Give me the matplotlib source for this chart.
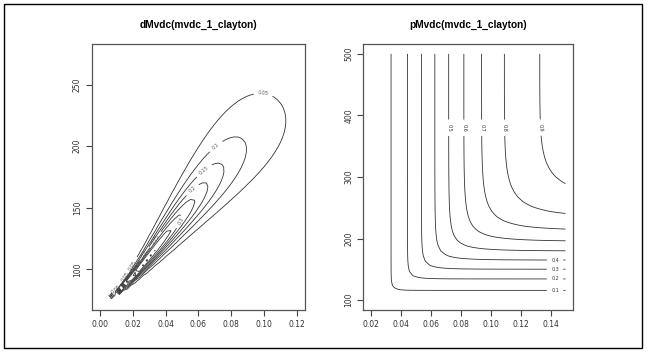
import math
import numpy as np
import matplotlib
matplotlib.use("Agg")
import matplotlib.pyplot as plt
from matplotlib.patches import Rectangle

# Clayton copula, X ~ gamma, Y ~ 75 + Weibull
theta = 4.3
x_shape, x_scale = 3.8, 0.0207
y_shape, y_scale, y_loc = 2.0, 126.0, 75.0

# grids used by the two contour panels (51 x 51, like R's default)
dens_xlim = (0.0, 0.12)
dens_ylim = (75.0, 275.0)
cdf_xlim = (0.02, 0.15)
cdf_ylim = (100.0, 500.0)
n_grid = 51

cdf_levels = [0.1, 0.2, 0.3, 0.4, 0.5, 0.6, 0.7, 0.8, 0.9]
dens_levels = [0.05, 0.1, 0.15, 0.2, 0.25, 0.3, 0.35, 0.4, 0.45, 0.5,
               0.55, 0.6, 0.65, 0.7, 0.75, 0.8]

dens_ticks_x = [0.00, 0.02, 0.04, 0.06, 0.08, 0.10, 0.12]
dens_ticks_y = [100, 150, 200, 250]
cdf_ticks_x = [0.02, 0.04, 0.06, 0.08, 0.10, 0.12, 0.14]
cdf_ticks_y = [100, 200, 300, 400, 500]


def gamma_cdf(t, a):
    t = np.maximum(np.asarray(t, float), 1e-300)
    term = np.full_like(t, 1.0 / a)
    s = term.copy()
    for n in range(1, 300):
        term = term * t / (a + n)
        s += term
    return np.clip(np.exp(a * np.log(t) - t - math.lgamma(a)) * s, 0, 1)


def gamma_pdf(t, a):
    t = np.asarray(t, float)
    out = np.zeros_like(t)
    m = t > 0
    out[m] = np.exp((a - 1) * np.log(t[m]) - t[m] - math.lgamma(a))
    return out


def margins(x, y):
    u = gamma_cdf(x / x_scale, x_shape)
    fx = gamma_pdf(x / x_scale, x_shape) / x_scale
    t = np.maximum(y - y_loc, 0) / y_scale
    v = -np.expm1(-t ** y_shape)
    fy = y_shape / y_scale * t ** (y_shape - 1) * np.exp(-t ** y_shape)
    return u, v, fx, fy


def dmvdc(x, y):
    u, v, fx, fy = margins(x, y)
    ok = (u > 0) & (v > 0) & (fx > 0) & (fy > 0)
    out = np.zeros_like(x)
    uu, vv = u[ok], v[ok]
    s = uu ** -theta + vv ** -theta - 1
    logc = (math.log(1 + theta) - (theta + 1) * (np.log(uu) + np.log(vv))
            - (2 + 1 / theta) * np.log(s))
    out[ok] = np.exp(logc) * fx[ok] * fy[ok]
    return out


def pmvdc(x, y):
    u, v, _, _ = margins(x, y)
    u = np.maximum(u, 1e-12)
    v = np.maximum(v, 1e-12)
    return (u ** -theta + v ** -theta - 1) ** (-1 / theta)


def style_axes(ax, xlim, ylim, xt, yt, fmt):
    dx = (xlim[1] - xlim[0]) * 0.04
    dy = (ylim[1] - ylim[0]) * 0.04
    ax.set_xlim(xlim[0] - dx, xlim[1] + dx)
    ax.set_ylim(ylim[0] - dy, ylim[1] + dy)
    ax.set_xticks(xt)
    ax.set_xticklabels([fmt.format(t) for t in xt])
    ax.set_yticks(yt)
    ax.set_yticklabels([str(t) for t in yt], rotation=90, va="center")
    ax.tick_params(length=4, width=0.8, color="#444444", labelsize=5.5,
                   labelcolor="#333333", pad=3)
    for sp in ax.spines.values():
        sp.set_color("#555555")
        sp.set_linewidth(0.9)


fig = plt.figure(figsize=(6.49, 3.54), dpi=100)
fig.patches.append(Rectangle((4 / 649, 6 / 354), 638 / 649, 344 / 354,
                             transform=fig.transFigure, fill=False,
                             edgecolor="black", linewidth=1.0))

ax1 = fig.add_axes([91.7 / 649, 44 / 354, 213.5 / 649, 266 / 354])
ax2 = fig.add_axes([363.3 / 649, 44 / 354, 210 / 649, 266 / 354])

# density panel
gx = np.linspace(*dens_xlim, n_grid)
gy = np.linspace(*dens_ylim, n_grid)
X, Y = np.meshgrid(gx, gy)
Z = dmvdc(X, Y)
cs1 = ax1.contour(X, Y, Z, levels=dens_levels, colors="#333333",
                  linewidths=0.6)
ax1.clabel(cs1, fontsize=3.5, fmt="%g", colors="#555555",
           manual=[(0.1, 250), (0.073, 196), (0.066, 176), (0.058, 162),
                   (0.048, 140), (0.034, 124), (0.027, 113), (0.02, 103),
                   (0.014, 95), (0.008, 86)])
style_axes(ax1, dens_xlim, dens_ylim, dens_ticks_x, dens_ticks_y, "{:.2f}")

# distribution function panel
gx = np.linspace(*cdf_xlim, n_grid)
gy = np.linspace(*cdf_ylim, n_grid)
X, Y = np.meshgrid(gx, gy)
P = pmvdc(X, Y)
cs2 = ax2.contour(X, Y, P, levels=cdf_levels, colors="#333333",
                  linewidths=0.6)
ax2.clabel(cs2, fontsize=3.5, fmt="%g",
           manual=[(0.143, 116), (0.143, 132), (0.143, 148), (0.143, 163),
                   (0.072, 380), (0.083, 380), (0.096, 380), (0.111, 380),
                   (0.131, 380)])
style_axes(ax2, cdf_xlim, cdf_ylim, cdf_ticks_x, cdf_ticks_y, "{:.2f}")

for ax, name in ((ax1, "dMvdc(mvdc_1_clayton)"), (ax2, "pMvdc(mvdc_1_clayton)")):
    pos = ax.get_position()
    fig.text(pos.x0 + pos.width / 2, 1 - 25 / 354, name, ha="center",
             va="center", fontsize=7.3, fontweight="bold",
             family=["Liberation Sans", "DejaVu Sans"])

plt.rcParams["font.family"] = ["Liberation Sans", "DejaVu Sans"]
fig.savefig("out.png", dpi=100)
